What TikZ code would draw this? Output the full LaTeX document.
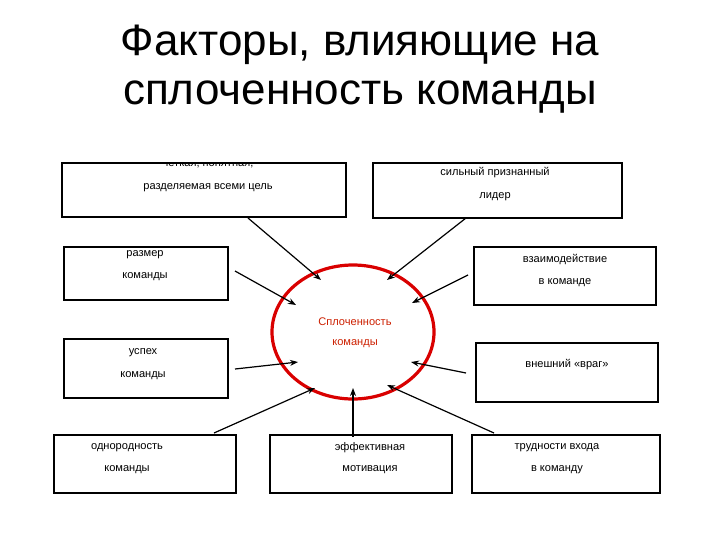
\documentclass[tikz,border=0pt]{standalone}
\usepackage{fontspec}
\setmainfont{Liberation Sans}
\usetikzlibrary{arrows.meta}
\begin{document}
\begin{tikzpicture}[x=0.75pt,y=-0.75pt,
 box/.style={draw,line width=0.8pt},
 lbl/.style={font=\fontsize{8.3}{9}\selectfont,inner sep=0pt},
 arr/.style={line width=0.9pt,-{Stealth[length=6pt,width=4.5pt]}}]
\useasboundingbox (0,0) rectangle (720,540);
\node[font=\fontsize{33}{40}\selectfont] (t1) at (360,45) {Факторы, влияющие на};
\node[font=\fontsize{33}{40}\selectfont] (t2) at (360,97) {сплоченность команды};
\draw[box] (62,163) rectangle (346,217);
\draw[box] (373,163) rectangle (622,218);
\draw[box] (64,247) rectangle (228,300);
\draw[box] (474,247) rectangle (656,305);
\draw[box] (64,339) rectangle (228,398);
\draw[box] (476,343) rectangle (658,402);
\draw[box] (54,435) rectangle (236,493);
\draw[box] (270,435) rectangle (452,493);
\draw[box] (472,435) rectangle (660,493);
\begin{scope}
\clip (62,163) rectangle (346,217);
\node[lbl] (b1a) at (208,164) {четкая, понятная,};
\end{scope}
\node[lbl] (b1b) at (208,188) {разделяемая всеми цель};
\node[lbl] (b2a) at (495,173) {сильный признанный};
\node[lbl] (b2b) at (495,197) {лидер};
\node[lbl] (b3a) at (145,255) {размер};
\node[lbl] (b3b) at (145,277) {команды};
\node[lbl] (b4a) at (565,259) {взаимодействие};
\node[lbl] (b4b) at (565,283) {в команде};
\node[lbl] (b5a) at (143,353) {успех};
\node[lbl] (b5b) at (143,376) {команды};
\node[lbl] (b6a) at (567,365) {внешний «враг»};
\node[lbl] (b7a) at (127,448) {однородность};
\node[lbl] (b7b) at (127,470) {команды};
\node[lbl] (b8a) at (370,448) {эффективная};
\node[lbl] (b8b) at (370,470) {мотивация};
\node[lbl] (b9a) at (557,448) {трудности входа};
\node[lbl] (b9b) at (557,470) {в команду};
\draw[red!85!black,line width=2.4pt] (353,332) ellipse [x radius=81, y radius=67];
\node[lbl,text=red!70!orange!80!black] (c1) at (355,322) {Сплоченность};
\node[lbl,text=red!70!orange!80!black] (c2) at (355,344) {команды};
\foreach \n/\ax/\ay/\bx/\by in {a/248/218/321/280, b/466/218/387/280, c/235/271/296/305,
  d/468/275/412/303, e/235/369/298/362, f/466/373/411/362, g/214/433/315/388,
  h/353/437/353/388, i/494/433/387/385}{
  \coordinate (s\n) at (\ax,\ay);
  \coordinate (e\n) at (\bx,\by);
  \draw[arr] (s\n) -- (e\n);
}
\end{tikzpicture}
\end{document}
